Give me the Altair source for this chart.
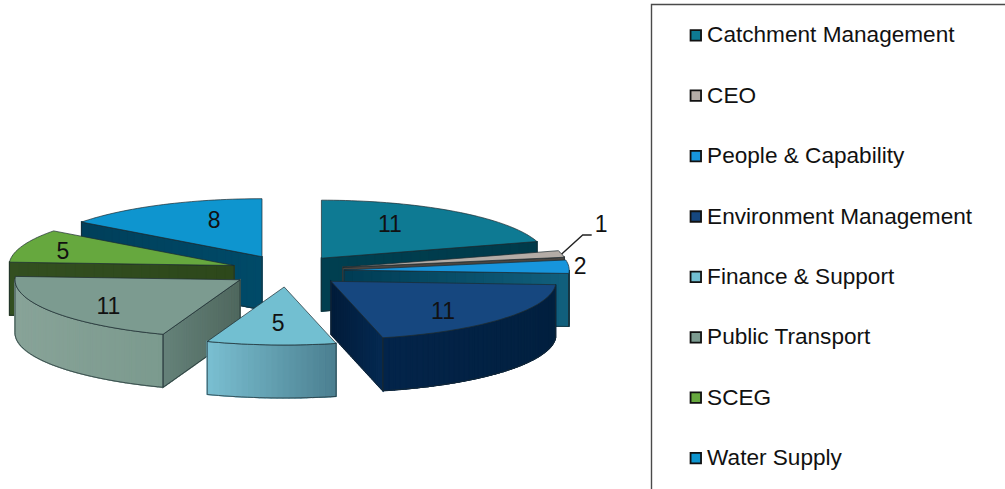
import math
import altair as alt

# Headcount per business unit, clockwise from twelve o'clock
units = ["Catchment Management", "CEO", "People & Capability", "Environment Management",
         "Finance & Support", "Public Transport", "SCEG", "Water Supply"]
counts = [11, 1, 2, 11, 5, 11, 5, 8]

# Face colours: top, cut face (near, far), outer wall (left, right)
top_colors = ["#0e7a93", "#b4aca6", "#1795dc", "#16477f", "#72bfd1", "#7c9b90", "#66a83e", "#0e95cf"]
cut_colors = [("#003f50", "#003a4a"), ("#4a4540", "#4a4540"), ("#003d55", "#12607e"),
              ("#021c3a", "#052a52"), ("#4b7f90", "#4b7f90"), ("#4f685e", "#66827a"),
              ("#2d481b", "#334f20"), ("#004a68", "#003f5a")]
wall_colors = [("#003f50", "#003f50"), ("#4a4540", "#4a4540"), ("#12607e", "#12607e"),
               ("#03244a", "#02203f"), ("#7abfd1", "#4b7f90"), ("#88a398", "#7b9a8e"),
               ("#2d481b", "#2d481b"), ("#004a68", "#004a68")]

# Pie projection: ellipse radii, extrusion depth, centre and explode distance
RX, RY, DEPTH = 225.0, 58.0, 53.0
CX, CY = 287.5, 271.0
EX, EY = 56.8, 16.0

# Draw order, back to front
paint_order = [7, 0, 6, 1, 2, 5, 3, 4]

# Label placement as fractions of the ellipse radii from each slice's apex
label_frac = [(0.51, 0.71), (1.18, 3.2), (1.05, 1.0), (0.65, 0.83),
              (0.46, 0.64), (0.70, 0.85), (0.81, 0.70), (0.475, 0.69)]


def mix(a, b, t):
    pa = [int(a[i:i + 2], 16) for i in (1, 3, 5)]
    pb = [int(b[i:i + 2], 16) for i in (1, 3, 5)]
    return "#" + "".join(f"{round(x + (y - x) * t):02x}" for x, y in zip(pa, pb))


def rim(apex, deg):
    r = math.radians(deg)
    return (apex[0] + RX * math.sin(r), apex[1] - RY * math.cos(r))


def feature(points, **props):
    ring = [list(p) for p in points]
    ring.append(ring[0])
    return {"type": "Feature", "geometry": {"type": "Polygon", "coordinates": [ring]}, "properties": props}


def line_feature(points):
    return {"type": "Feature", "geometry": {"type": "LineString", "coordinates": [list(p) for p in points]},
            "properties": {}}


def down(p):
    return (p[0], p[1] + DEPTH)


total = sum(counts)
spans = []
start = 0.0
for c in counts:
    spans.append((start, start + 360.0 * c / total))
    start = spans[-1][1]

apexes = []
for a0, a1 in spans:
    m = math.radians((a0 + a1) / 2)
    apexes.append((CX + EX * math.sin(m), CY - EY * math.cos(m)))

projection = alt.Projection(type="identity", scale=1, translate=[0, 0]).to_dict()
legend = alt.Legend(
    orient="none", legendX=684.5, legendY=24, title=None, padding=0,
    symbolType="square", symbolSize=110, symbolStrokeColor="#111111", symbolStrokeWidth=1.8,
    labelFont="Liberation Sans", labelFontSize=22.6, labelColor="#111111", labelOffset=0,
    labelLimit=320, rowPadding=37.4, values=units,
)
EDGE = "#1d2b30"

layers = []
for idx in paint_order:
    a0, a1 = spans[idx]
    apex = apexes[idx]
    shaded, outlines = [], []

    # Radial cut faces that turn towards the viewer
    faces = []
    if math.sin(math.radians(a0)) < -1e-6:
        faces.append(a0)
    if math.sin(math.radians(a1)) > 1e-6:
        faces.append(a1)
    for ang in faces:
        end = rim(apex, ang)
        shaded.append(feature([apex, end, down(end), down(apex)],
                              fill=mix(cut_colors[idx][0], cut_colors[idx][1], 0.5)))
        n = 24
        for i in range(n):
            t0, t1 = i / n, (i + 1) / n
            p0 = (apex[0] + (end[0] - apex[0]) * t0, apex[1] + (end[1] - apex[1]) * t0)
            p1 = (apex[0] + (end[0] - apex[0]) * t1, apex[1] + (end[1] - apex[1]) * t1)
            col = mix(cut_colors[idx][0], cut_colors[idx][1], t0)
            shaded.append(feature([p0, p1, down(p1), down(p0)], fill=col))
        outlines.append(feature([apex, end, down(end), down(apex)], fill="none"))

    # Outer wall on the front half of the ellipse, shaded in narrow strips
    w0, w1 = max(a0, 90.0), min(a1, 270.0)
    if w1 > w0:
        n = max(2, int((w1 - w0) / 1.5))
        arc = [rim(apex, w0 + (w1 - w0) * i / n) for i in range(n + 1)]
        lo, hi = min(p[0] for p in arc), max(p[0] for p in arc)
        shaded.append(feature(arc + [down(p) for p in reversed(arc)],
                              fill=mix(wall_colors[idx][0], wall_colors[idx][1], 0.5)))
        for i in range(n):
            t = ((arc[i][0] + arc[i + 1][0]) / 2 - lo) / max(hi - lo, 1e-6)
            col = mix(wall_colors[idx][0], wall_colors[idx][1], t)
            shaded.append(feature([arc[i], arc[i + 1], down(arc[i + 1]), down(arc[i])], fill=col))
        outlines.append(feature(arc + [down(p) for p in reversed(arc)], fill="none"))

    if shaded:
        layers.append(
            alt.Chart(alt.Data(values=shaded))
            .mark_geoshape(strokeWidth=1.2)
            .encode(fill=alt.Fill("properties.fill:N", scale=None),
                    stroke=alt.Stroke("properties.fill:N", scale=None))
            .project(**projection)
        )
    if outlines:
        layers.append(
            alt.Chart(alt.Data(values=outlines))
            .mark_geoshape(filled=False, stroke=EDGE, strokeWidth=0.7)
            .project(**projection)
        )

    # Top face of the slice, carrying the legend's colour scale
    n = max(4, int((a1 - a0) / 1.5))
    top = [apex] + [rim(apex, a0 + (a1 - a0) * i / n) for i in range(n + 1)]
    layers.append(
        alt.Chart(alt.Data(values=[feature(top, unit=units[idx])]))
        .mark_geoshape(stroke=EDGE, strokeWidth=0.7)
        .encode(color=alt.Color("properties.unit:N",
                                scale=alt.Scale(domain=units, range=top_colors),
                                legend=legend))
        .project(**projection)
    )

# Legend frame: only its left and top sides fall inside the canvas
frame = (
    alt.Chart(alt.Data(values=[line_feature([(651.5, 489), (651.5, 4.5), (1005, 4.5)])]))
    .mark_geoshape(filled=False, stroke="#4a4a4a", strokeWidth=1.4)
    .project(**projection)
)

# Leader from the CEO sliver to its label
ceo_mid = rim(apexes[1], sum(spans[1]) / 2)
leader = (
    alt.Chart(alt.Data(values=[line_feature([ceo_mid, (ceo_mid[0] + 21, ceo_mid[1] - 19),
                                             (ceo_mid[0] + 30, ceo_mid[1] - 19)])]))
    .mark_geoshape(filled=False, stroke="#222222", strokeWidth=1.4)
    .project(**projection)
)

# Value labels
label_rows = []
for i, value in enumerate(counts):
    m = math.radians(sum(spans[i]) / 2)
    fx, fy = label_frac[i]
    label_rows.append({
        "value": value,
        "lon": apexes[i][0] + fx * RX * math.sin(m),
        "lat": apexes[i][1] - fy * RY * math.cos(m),
    })
labels = (
    alt.Chart(alt.Data(values=label_rows))
    .mark_text(font="Liberation Sans", fontSize=23, color="#111111", align="center", baseline="middle")
    .encode(longitude="lon:Q", latitude="lat:Q", text="value:Q")
    .project(**projection)
)

chart = (
    alt.layer(frame, *layers, leader, labels)
    .properties(width=1005, height=489, padding=0, autosize="none", background="white")
    .configure_view(stroke=None)
)
chart.save("out.html", embed_options={"renderer": "svg", "actions": False})
